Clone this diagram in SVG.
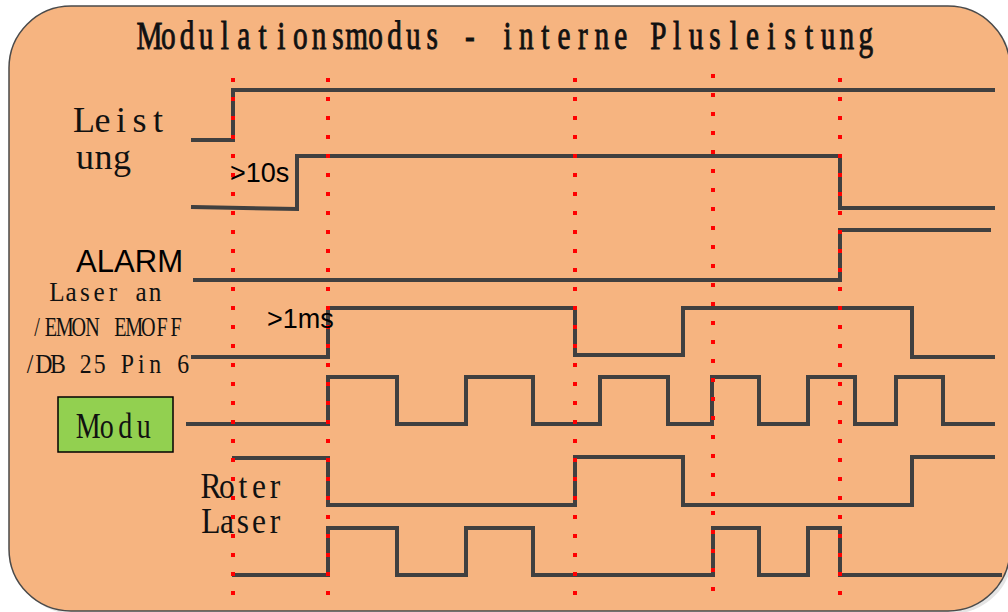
<svg xmlns="http://www.w3.org/2000/svg" width="1008" height="612" viewBox="0 0 1008 612">
<style>
.wave{fill:none;stroke:#404040;stroke-width:4;stroke-linejoin:miter;stroke-linecap:square}
.dot{fill:none;stroke:#FF0000;stroke-width:4;stroke-dasharray:4 15}
.serif{font-family:"Liberation Serif","Times New Roman",serif;fill:#111;text-anchor:middle}
.sans{font-family:"Liberation Sans",Arial,sans-serif;fill:#000}
</style>
<g id="background">
<rect x="12" y="9" width="1001" height="605" rx="62" fill="#d9d9d9" opacity="0.7"/>
<rect x="9" y="6" width="1001" height="605" rx="62" fill="#F6B480" stroke="#4a4a4a" stroke-width="1.5"/>
</g>
<g id="title">
<text class="serif" transform="scale(0.75,1)" y="49" font-size="39" stroke="#111" stroke-width="0.9" x="199.2 224.33 249.47 274.6 299.73 324.87 350 375.13 400.27 425.4 450.53 475.67 500.8 525.93 551.07 576.2 601.33 626.47 651.6 676.73 701.87 727 752.13 777.27 802.4 827.53 852.67 877.8 902.93 928.07 953.2 978.33 1003.47 1028.6 1053.73 1078.87 1104 1129.13 1154.27">Modulationsmodus - interne Plusleistung</text>
</g>
<g id="label-leistung">
<text class="serif" y="132" font-size="36" x="84 102.5 121 139.5 158">Leist</text>
<text class="serif" y="169" font-size="36" x="85 103.5 122">ung</text>
</g>
<g id="label-alarm">
<text class="sans" x="76" y="272" font-size="32" textLength="107" lengthAdjust="spacingAndGlyphs">ALARM</text>
</g>
<g id="label-laser-an">
<text class="serif" transform="scale(0.9,1)" y="301" font-size="28" x="63.33 78.89 94.44 110 125.56 141.11 156.67 172.22">Laser an</text>
<text class="serif" transform="scale(0.72,1)" y="336" font-size="28" x="51.39 70.69 90 109.31 128.61 147.92 167.22 186.53 205.83 225.14 244.44">/EMON EMOFF</text>
<text class="serif" transform="scale(0.85,1)" y="373" font-size="28" x="35.29 51.67 68.05 84.42 100.8 117.18 133.55 149.93 166.31 182.68 199.06 215.44">/DB 25 Pin 6</text>
</g>
<g id="label-modu">
<rect x="58" y="397" width="115" height="55" fill="#92D050" stroke="#000" stroke-width="1.5"/>
<text class="serif" transform="scale(0.8,1)" y="438" font-size="35" x="110.31 133.44 156.56 179.69">Modu</text>
</g>
<g id="label-roter-laser">
<text class="serif" transform="scale(0.9,1)" y="498" font-size="35" x="234.44 252.22 270 287.78 305.56">Roter</text>
<text class="serif" transform="scale(0.9,1)" y="533" font-size="35" x="234.44 252.22 270 287.78 305.56">Laser</text>
</g>
<g id="connectors">
<path class="wave" d="M193 140 H233 V90 H993"/>
<path class="wave" d="M193 207 L297 209 V156 H840 V208 H993"/>
<path class="wave" d="M195 280 H840 V230 H989"/>
<path class="wave" d="M193 357 H328 V308 H575 V355 H683 V308 H912 V357 H993"/>
<path class="wave" d="M188 424 H328 V377 H397 V424 H466 V377 H533 V424 H600 V377 H668 V424 H712 V377 H759 V424 H808 V377 H855 V424 H896 V377 H943 V424 H993"/>
<path class="wave" d="M234 458 H328 V505 H575 V457 H683 V505 H912 V457 H993"/>
<path class="wave" d="M234 575 H328 V528 H397 V575 H466 V528 H533 V575 H713 V528 H759 V575 H808 V528 H840 V575 H1000"/>
<path class="dot" d="M233 78 V600"/>
<path class="dot" d="M328 78 V600"/>
<path class="dot" d="M575 78 V600"/>
<path class="dot" d="M713 74 V600"/>
<path class="dot" d="M840 78 V600"/>
</g>
<g id="timing-labels">
<text class="sans" x="230" y="182" font-size="27">&gt;10s</text>
<text class="sans" x="267" y="328" font-size="27">&gt;1ms</text>
</g>
</svg>
